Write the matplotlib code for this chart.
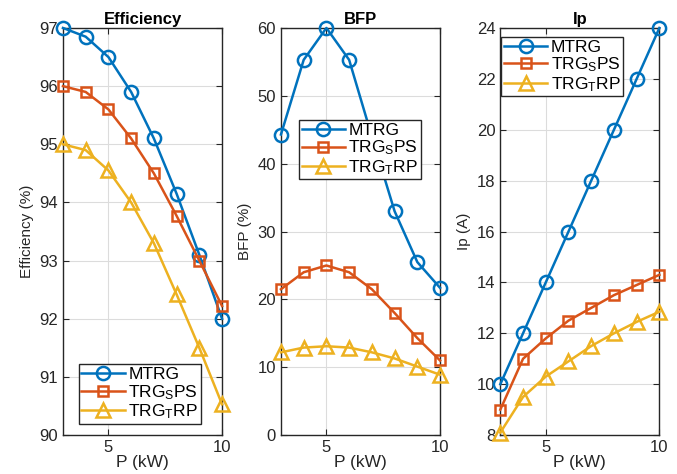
import numpy as np
import matplotlib
matplotlib.use("Agg")
import matplotlib.pyplot as plt

plt.rcParams["font.family"] = ["Liberation Sans", "DejaVu Sans"]
plt.rcParams["mathtext.default"] = "regular"

p_kw = [3, 4, 5, 6, 7, 8, 9, 10]
series_names = ["MTRG", "TRG$_S$PS", "TRG$_T$RP"]

eff_mtrg = [97.0, 96.85, 96.5, 95.9, 95.1, 94.15, 93.1, 92.0]
eff_trgsps = [96.0, 95.9, 95.6, 95.1, 94.5, 93.77, 93.0, 92.22]
eff_trgtrp = [95.0, 94.9, 94.55, 94.0, 93.3, 92.42, 91.5, 90.53]

bfp_mtrg = [44.3, 55.3, 60.0, 55.3, 44.0, 33.0, 25.5, 21.7]
bfp_trgsps = [21.5, 24.0, 25.0, 24.0, 21.5, 18.0, 14.3, 11.0]
bfp_trgtrp = [12.2, 12.9, 13.1, 12.9, 12.2, 11.3, 10.1, 8.9]

ip_mtrg = [10, 12, 14, 16, 18, 20, 22, 24]
ip_trgsps = [9.0, 11.0, 11.8, 12.5, 13.0, 13.5, 13.9, 14.3]
ip_trgtrp = [8.1, 9.5, 10.3, 10.9, 11.5, 12.0, 12.45, 12.85]

colors = ["#0072BD", "#D95319", "#EDB120"]
markers = ["o", "s", "^"]
msizes = [9.5, 7, 10.5]

panels = [
    ("Efficiency", "Efficiency (%)", [eff_mtrg, eff_trgsps, eff_trgtrp],
     (90, 97), np.arange(90, 98, 1), (0.10, 0.174)),
    ("BFP", "BFP (%)", [bfp_mtrg, bfp_trgsps, bfp_trgtrp],
     (0, 60), np.arange(0, 61, 10), (0.113, 0.774)),
    ("Ip", "Ip (A)", [ip_mtrg, ip_trgsps, ip_trgtrp],
     (8, 24), np.arange(8, 25, 2), (0.006, 0.978)),
]

fig = plt.figure(figsize=(6.77, 4.74), dpi=100)
lefts = [0.093, 0.415, 0.739]

for left, (title, ylabel, data, ylim, yticks, leg_pos) in zip(lefts, panels):
    ax = fig.add_axes([left, 0.082, 0.235, 0.859])
    for vals, c, m, ms, name in zip(data, colors, markers, msizes, series_names):
        ax.plot(p_kw, vals, color=c, marker=m, markersize=ms,
                markerfacecolor="none", markeredgewidth=1.8,
                linewidth=1.8, label=name, clip_on=False, zorder=3)
    ax.set_xlim(3, 10)
    ax.set_ylim(*ylim)
    ax.set_xticks([5, 10])
    ax.set_yticks(yticks)
    ax.grid(True, color="#dcdcdc", linewidth=0.8)
    ax.set_axisbelow(True)
    ax.tick_params(direction="in", top=True, right=True, labelsize=12,
                   colors="#262626", length=4)
    for s in ax.spines.values():
        s.set_color("#262626")
        s.set_linewidth(1.0)
    ax.set_title(title, fontsize=12, fontweight="bold", pad=3)
    ax.set_xlabel("P (kW)", fontsize=12.5, color="#262626", labelpad=0)
    ax.set_ylabel(ylabel, fontsize=11, color="#262626", labelpad=4)
    leg = ax.legend(loc="upper left", bbox_to_anchor=leg_pos, fontsize=12.5,
                    frameon=True, fancybox=False, edgecolor="#262626",
                    framealpha=1, borderpad=0.15, handlelength=2.5,
                    handletextpad=0.2, labelspacing=0.05, borderaxespad=0)
    leg.get_frame().set_linewidth(1.0)
    leg.set_zorder(5)

fig.savefig("out.png", dpi=100)
